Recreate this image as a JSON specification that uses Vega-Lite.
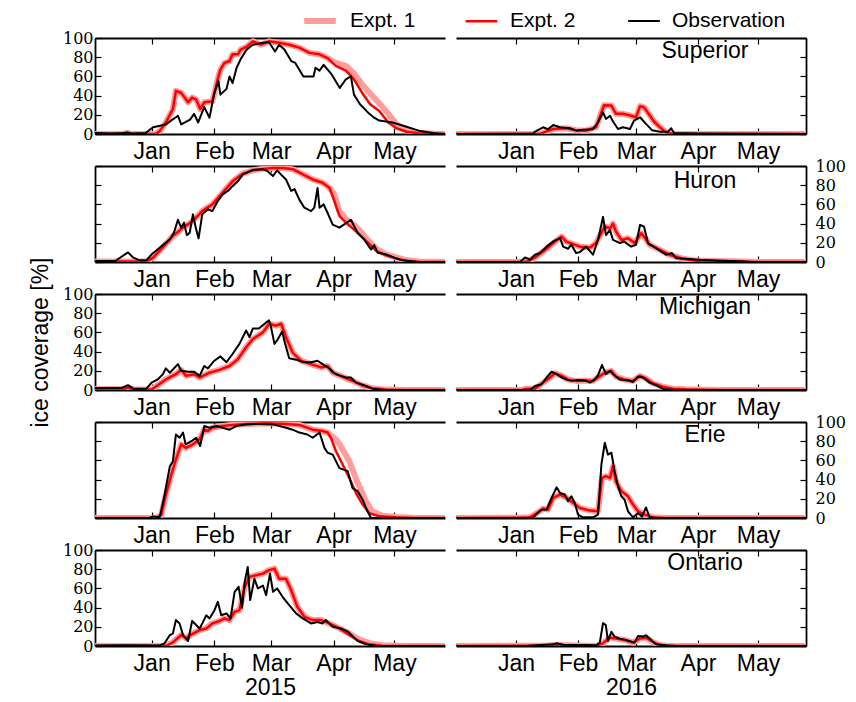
{
"$schema":"https://vega.github.io/schema/vega-lite/v6.json",
"background":"white",
"padding":{"left":29,"top":2,"right":0,"bottom":0},
"columns":2,
"spacing":{"row":32,"column":11},
"bounds":"flush",
"datasets":{"ice":[
{"p":"S15","d":-28,"a":0,"b":0,"o":1},{"p":"S15","d":-20,"o":0.5},{"p":"S15","d":-14,"a":0,"b":0,"o":1},{"p":"S15","d":-12,"a":1,"b":1,"o":1.5},{"p":"S15","d":-10,"a":0,"b":0,"o":0.5},{"p":"S15","d":-3,"o":1},{"p":"S15","d":0.7,"o":7},{"p":"S15","d":2,"a":0,"b":0},{"p":"S15","d":4,"a":3,"b":3},{"p":"S15","d":7,"a":12,"b":12,"o":10},{"p":"S15","d":10.5,"a":26,"b":26},{"p":"S15","d":12,"a":45,"b":45},{"p":"S15","d":13,"o":19},{"p":"S15","d":14.6,"a":43,"b":43,"o":10},{"p":"S15","d":18,"a":33,"b":33},{"p":"S15","d":19,"o":15},{"p":"S15","d":20,"a":38,"b":38},{"p":"S15","d":21,"o":21},{"p":"S15","d":22,"a":36,"b":36},{"p":"S15","d":23,"o":12},{"p":"S15","d":24,"a":26,"b":26},{"p":"S15","d":26,"a":33,"b":33,"o":28},{"p":"S15","d":28.6,"o":17},{"p":"S15","d":30,"a":34,"b":34},{"p":"S15","d":31,"o":43},{"p":"S15","d":33,"a":60,"b":60,"o":55},{"p":"S15","d":34,"a":67,"b":67,"o":41},{"p":"S15","d":36,"a":74,"b":74},{"p":"S15","d":37,"o":47},{"p":"S15","d":38.5,"a":76,"b":76,"o":60},{"p":"S15","d":40,"a":83,"b":83,"o":53},{"p":"S15","d":42,"o":69},{"p":"S15","d":42.6,"a":83,"b":83},{"p":"S15","d":44,"a":88,"b":88,"o":78},{"p":"S15","d":47,"a":91,"b":91,"o":88},{"p":"S15","d":50,"a":96.5,"b":96.5,"o":93},{"p":"S15","d":54,"a":93,"b":93},{"p":"S15","d":55,"o":95},{"p":"S15","d":58,"a":96.5,"b":96.5,"o":95.5},{"p":"S15","d":61,"o":86},{"p":"S15","d":63,"a":95,"b":95,"o":93},{"p":"S15","d":65.6,"o":88},{"p":"S15","d":68,"a":93,"b":93},{"p":"S15","d":69,"o":76},{"p":"S15","d":71,"o":74},{"p":"S15","d":73,"a":90,"b":90},{"p":"S15","d":75,"o":60},{"p":"S15","d":78,"a":84.5,"b":84.5},{"p":"S15","d":80,"o":60},{"p":"S15","d":81,"o":69},{"p":"S15","d":83,"a":83,"b":83,"o":66},{"p":"S15","d":85,"o":72},{"p":"S15","d":87,"a":79,"b":79},{"p":"S15","d":89,"o":62},{"p":"S15","d":91,"a":74,"b":71},{"p":"S15","d":93,"o":48},{"p":"S15","d":96,"a":71,"b":66,"o":57},{"p":"S15","d":98.5,"o":60},{"p":"S15","d":100,"a":63,"b":57,"o":41},{"p":"S15","d":103,"o":31},{"p":"S15","d":104,"a":52,"b":43},{"p":"S15","d":107.6,"o":21},{"p":"S15","d":108,"a":42,"b":31},{"p":"S15","d":110,"o":17},{"p":"S15","d":112.5,"a":32,"b":24,"o":14},{"p":"S15","d":117,"a":21,"b":12},{"p":"S15","d":119,"o":12},{"p":"S15","d":121,"a":10,"b":6},{"p":"S15","d":126,"a":4,"b":2.4,"o":7.5},{"p":"S15","d":132,"a":1.2,"b":0.7,"o":3.5},{"p":"S15","d":139,"o":1},{"p":"S15","d":140,"a":0.3,"b":0},{"p":"S15","d":145,"a":0,"b":0,"o":0},

{"p":"S16","d":-30,"a":0,"b":0,"o":0},{"p":"S16","d":8.6,"o":0.5},{"p":"S16","d":9.5,"o":2.4},{"p":"S16","d":12,"a":0,"b":0},{"p":"S16","d":13.6,"o":7},{"p":"S16","d":15,"a":2.4,"b":2.4},{"p":"S16","d":16,"o":5},{"p":"S16","d":18.6,"a":5.2,"b":5.2,"o":9.4},{"p":"S16","d":22,"o":7},{"p":"S16","d":25,"a":6,"b":6},{"p":"S16","d":27,"o":6},{"p":"S16","d":30,"a":4,"b":4,"o":3.5},{"p":"S16","d":33.5,"o":4.5},{"p":"S16","d":35,"a":3.5,"b":3.5},{"p":"S16","d":38.5,"o":5},{"p":"S16","d":40,"a":7,"b":7},{"p":"S16","d":41,"o":12},{"p":"S16","d":42.7,"a":22.6,"b":22.6},{"p":"S16","d":43.5,"o":22.6},{"p":"S16","d":44,"a":30,"b":30},{"p":"S16","d":45,"o":15.7},{"p":"S16","d":47,"o":19},{"p":"S16","d":47.7,"a":29.6,"b":29.6},{"p":"S16","d":48.5,"o":13},{"p":"S16","d":50,"a":21,"b":21},{"p":"S16","d":51,"o":5.2},{"p":"S16","d":53.5,"a":21,"b":21,"o":7},{"p":"S16","d":57,"o":5.2},{"p":"S16","d":57.6,"a":19,"b":19},{"p":"S16","d":59,"o":14},{"p":"S16","d":60,"a":17.4,"b":17.4},{"p":"S16","d":62,"a":29,"b":29,"o":17.4},{"p":"S16","d":64,"a":28,"b":28},{"p":"S16","d":65,"o":10.5},{"p":"S16","d":67,"a":19,"b":19},{"p":"S16","d":68,"o":4},{"p":"S16","d":69,"a":13,"b":13},{"p":"S16","d":72,"a":7,"b":7,"o":2.4},{"p":"S16","d":75,"a":1.7,"b":1.7},{"p":"S16","d":76,"o":2.4},{"p":"S16","d":77.6,"o":6},{"p":"S16","d":78,"a":0.3,"b":0.3},{"p":"S16","d":79,"o":1},{"p":"S16","d":85,"a":0,"b":0},{"p":"S16","d":90,"o":0.5},{"p":"S16","d":145,"a":0,"b":0,"o":0},

{"p":"H15","d":-28,"a":0.5,"b":0.5,"o":1},{"p":"H15","d":-18,"o":1},{"p":"H15","d":-11.7,"o":10},{"p":"H15","d":-9,"o":4.5},{"p":"H15","d":-6,"o":1.7},{"p":"H15","d":-2.6,"a":0.5,"b":0.5,"o":1.7},{"p":"H15","d":0,"o":8},{"p":"H15","d":0.7,"a":4.5,"b":4.5},{"p":"H15","d":2.3,"o":12},{"p":"H15","d":5.6,"a":15.6,"b":15.6,"o":17.7},{"p":"H15","d":9,"o":23.6},{"p":"H15","d":10.5,"a":27,"b":27},{"p":"H15","d":11,"o":30.5},{"p":"H15","d":13,"o":44},{"p":"H15","d":14.6,"o":35.8},{"p":"H15","d":15.5,"a":35.8,"b":35.8},{"p":"H15","d":16,"o":41},{"p":"H15","d":17.4,"o":28},{"p":"H15","d":18.8,"o":30.5},{"p":"H15","d":20.4,"a":42.7,"b":42.7,"o":49.6},{"p":"H15","d":22,"o":34},{"p":"H15","d":23.2,"o":24.6},{"p":"H15","d":25,"a":53,"b":53,"o":49.6},{"p":"H15","d":27.8,"o":55},{"p":"H15","d":30,"a":60,"b":60,"o":53},{"p":"H15","d":32.7,"o":63.5},{"p":"H15","d":35,"a":72,"b":72,"o":70.5},{"p":"H15","d":37.7,"o":74},{"p":"H15","d":40,"a":84,"b":84,"o":79},{"p":"H15","d":42.6,"o":84},{"p":"H15","d":45,"a":92,"b":92,"o":91},{"p":"H15","d":50,"a":95.5,"b":95.5,"o":96},{"p":"H15","d":55,"a":97,"b":97,"o":96.5},{"p":"H15","d":57,"o":95},{"p":"H15","d":60,"a":98,"b":98,"o":89.6},{"p":"H15","d":62,"o":95.5},{"p":"H15","d":64,"o":91},{"p":"H15","d":65,"a":98,"b":98},{"p":"H15","d":66.4,"o":86},{"p":"H15","d":69,"o":74},{"p":"H15","d":70,"a":96.5,"b":96.5},{"p":"H15","d":70.6,"o":76},{"p":"H15","d":73,"o":65},{"p":"H15","d":75,"a":91,"b":91},{"p":"H15","d":75.5,"o":56.6},{"p":"H15","d":78.8,"o":53},{"p":"H15","d":79.6,"a":86,"b":86},{"p":"H15","d":80.4,"o":56.6},{"p":"H15","d":82,"o":77},{"p":"H15","d":83,"o":56.6},{"p":"H15","d":84.5,"a":82.6,"b":82.6},{"p":"H15","d":85,"o":60},{"p":"H15","d":87,"o":51},{"p":"H15","d":88,"a":77,"b":77},{"p":"H15","d":89.5,"o":39},{"p":"H15","d":90.3,"a":70,"b":63.5},{"p":"H15","d":92.8,"a":53,"b":48,"o":35.8},{"p":"H15","d":95,"o":39},{"p":"H15","d":96,"a":45,"b":41},{"p":"H15","d":98.5,"o":44},{"p":"H15","d":101,"a":37,"b":32},{"p":"H15","d":101.8,"o":30.5},{"p":"H15","d":105,"o":23.6},{"p":"H15","d":106,"a":25,"b":22},{"p":"H15","d":108.4,"o":13},{"p":"H15","d":110,"o":17.7},{"p":"H15","d":111,"a":14,"b":11.5},{"p":"H15","d":111.7,"o":9.7},{"p":"H15","d":115.8,"a":8,"b":7,"o":8},{"p":"H15","d":120,"o":4.5},{"p":"H15","d":120.7,"a":5,"b":3.8},{"p":"H15","d":124,"o":1.7},{"p":"H15","d":125.7,"a":2,"b":1.4},{"p":"H15","d":130.6,"o":0.3},{"p":"H15","d":132,"a":0.5,"b":0.3},{"p":"H15","d":145,"a":0,"b":0,"o":0},

{"p":"H16","d":-30,"a":0,"b":0,"o":0},{"p":"H16","d":2,"o":0},{"p":"H16","d":3.6,"a":0,"b":0},{"p":"H16","d":4.5,"o":4.8},{"p":"H16","d":6,"a":0.7,"b":0.7},{"p":"H16","d":7,"o":2.4},{"p":"H16","d":9.5,"a":4.8,"b":4.8,"o":7.6},{"p":"H16","d":12,"o":9.3},{"p":"H16","d":13.6,"a":11,"b":11},{"p":"H16","d":15.3,"o":16},{"p":"H16","d":18.6,"a":19.7,"b":19.7,"o":21.4},{"p":"H16","d":22,"o":24.8},{"p":"H16","d":22.8,"a":26.5,"b":26.5},{"p":"H16","d":23.6,"o":16},{"p":"H16","d":25,"a":21.4,"b":21.4},{"p":"H16","d":26,"o":13.8},{"p":"H16","d":27.7,"o":18},{"p":"H16","d":28.6,"a":18.6,"b":18.6},{"p":"H16","d":30,"o":9.3},{"p":"H16","d":32,"a":16,"b":16,"o":10.3},{"p":"H16","d":35,"o":16},{"p":"H16","d":37,"a":15,"b":15},{"p":"H16","d":38.5,"o":7.6},{"p":"H16","d":40,"a":19.7,"b":19.7},{"p":"H16","d":41,"o":23},{"p":"H16","d":43.5,"o":47},{"p":"H16","d":44.4,"a":37,"b":37},{"p":"H16","d":45,"o":28},{"p":"H16","d":47,"a":35,"b":35,"o":33.4},{"p":"H16","d":48.5,"a":40,"b":40,"o":23},{"p":"H16","d":50,"a":31.7,"b":31.7},{"p":"H16","d":52,"o":19.7},{"p":"H16","d":52.7,"a":23,"b":23},{"p":"H16","d":54,"o":21.4},{"p":"H16","d":56,"a":24.8,"b":24.8},{"p":"H16","d":57.6,"o":16},{"p":"H16","d":59.3,"a":19.7,"b":19.7},{"p":"H16","d":60,"o":18},{"p":"H16","d":62,"o":38.6},{"p":"H16","d":62.6,"a":30,"b":30},{"p":"H16","d":64,"a":26.5,"b":26.5,"o":37},{"p":"H16","d":66,"o":19.7},{"p":"H16","d":66.8,"a":18,"b":18},{"p":"H16","d":70,"o":14.5},{"p":"H16","d":71.8,"a":12.8,"b":12.8},{"p":"H16","d":75,"o":7.6},{"p":"H16","d":76.7,"a":7.6,"b":7.6},{"p":"H16","d":78,"o":9.3},{"p":"H16","d":80,"o":4},{"p":"H16","d":83.4,"a":3.4,"b":3.4},{"p":"H16","d":85,"o":3.4},{"p":"H16","d":90,"a":1.4,"b":1.4},{"p":"H16","d":91.7,"o":2.4},{"p":"H16","d":98.3,"a":1.4,"b":1.4},{"p":"H16","d":101.7,"o":1.4},{"p":"H16","d":110,"a":0.7,"b":0.7},{"p":"H16","d":111.6,"o":0.7},{"p":"H16","d":118,"o":0},{"p":"H16","d":120,"a":0,"b":0},{"p":"H16","d":145,"a":0,"b":0,"o":0},

{"p":"M15","d":-28,"a":1,"b":1,"o":2},{"p":"M15","d":-15,"o":2},{"p":"M15","d":-14,"a":1,"b":1},{"p":"M15","d":-11.7,"a":2.5,"b":2.5,"o":5},{"p":"M15","d":-9,"a":0.5,"b":0.5,"o":1.4},{"p":"M15","d":-2.6,"o":1.4},{"p":"M15","d":0,"a":0.5,"b":0.5,"o":7.7},{"p":"M15","d":2.3,"a":4,"b":4},{"p":"M15","d":3,"o":11},{"p":"M15","d":5.6,"o":16.5},{"p":"M15","d":7,"a":11,"b":11,"o":22.5},{"p":"M15","d":9,"o":18},{"p":"M15","d":12,"a":16.5,"b":16.5},{"p":"M15","d":13,"o":27},{"p":"M15","d":14.6,"a":21,"b":21,"o":20},{"p":"M15","d":17,"a":14.7,"b":14.7},{"p":"M15","d":18,"o":19},{"p":"M15","d":21,"a":16.5,"b":16.5,"o":19},{"p":"M15","d":23.7,"a":13,"b":13,"o":14.7},{"p":"M15","d":26,"o":25},{"p":"M15","d":27.8,"o":22.5},{"p":"M15","d":28.6,"a":18,"b":18},{"p":"M15","d":31,"o":30.5},{"p":"M15","d":33.5,"a":21,"b":21},{"p":"M15","d":34,"o":35},{"p":"M15","d":37,"o":29},{"p":"M15","d":38.5,"a":25,"b":25},{"p":"M15","d":40,"o":37.5},{"p":"M15","d":42.6,"a":32,"b":32},{"p":"M15","d":43.4,"o":48},{"p":"M15","d":46.7,"a":44.6,"b":44.6,"o":62},{"p":"M15","d":48.4,"o":55},{"p":"M15","d":50,"a":53,"b":53,"o":64},{"p":"M15","d":53,"o":64},{"p":"M15","d":55,"a":60,"b":60},{"p":"M15","d":55.8,"o":69},{"p":"M15","d":58,"a":69,"b":69,"o":72.6},{"p":"M15","d":59,"o":65.6},{"p":"M15","d":60.7,"o":48},{"p":"M15","d":61.5,"a":67,"b":67},{"p":"M15","d":62,"o":51.6},{"p":"M15","d":64,"a":69,"b":69},{"p":"M15","d":64.5,"o":61},{"p":"M15","d":66,"o":48},{"p":"M15","d":66.4,"a":55,"b":55},{"p":"M15","d":68,"o":33},{"p":"M15","d":69.7,"a":39,"b":39},{"p":"M15","d":71.4,"o":31.6},{"p":"M15","d":73.8,"a":30.5,"b":30.5},{"p":"M15","d":74.7,"o":29},{"p":"M15","d":78.8,"a":27,"b":27,"o":29},{"p":"M15","d":82,"o":30.5},{"p":"M15","d":83.7,"a":23.5,"b":23.5},{"p":"M15","d":84.5,"o":27},{"p":"M15","d":87,"a":25,"b":25},{"p":"M15","d":87.8,"o":22.5},{"p":"M15","d":89.5,"a":18,"b":18},{"p":"M15","d":91,"o":16.5},{"p":"M15","d":94.4,"a":13.7,"b":13.7},{"p":"M15","d":96,"o":13},{"p":"M15","d":98.5,"o":13},{"p":"M15","d":99.3,"a":9.5,"b":9.5},{"p":"M15","d":101,"o":7.7},{"p":"M15","d":104,"a":5,"b":5},{"p":"M15","d":105,"o":5},{"p":"M15","d":109,"a":1.8,"b":1.8,"o":1.4},{"p":"M15","d":115,"o":0},{"p":"M15","d":115.8,"a":0.4,"b":0.4},{"p":"M15","d":125,"a":0,"b":0},{"p":"M15","d":145,"a":0,"b":0,"o":0},

{"p":"M16","d":-30,"a":0,"b":0,"o":0},{"p":"M16","d":3,"a":0,"b":0},{"p":"M16","d":5.3,"a":1.4,"b":1.4},{"p":"M16","d":7,"o":0},{"p":"M16","d":9.5,"a":1.4,"b":1.4,"o":4.2},{"p":"M16","d":12.8,"o":6},{"p":"M16","d":13.6,"a":7.7,"b":7.7},{"p":"M16","d":15.3,"o":13},{"p":"M16","d":17,"a":13,"b":13},{"p":"M16","d":17.8,"o":19},{"p":"M16","d":19.4,"a":17.5,"b":17.5},{"p":"M16","d":20.3,"o":16.5},{"p":"M16","d":22.8,"a":14.7,"b":14.7,"o":13},{"p":"M16","d":25,"o":11},{"p":"M16","d":26,"a":11,"b":11},{"p":"M16","d":27.7,"o":9.5},{"p":"M16","d":30,"a":9.5,"b":9.5},{"p":"M16","d":31,"o":10.5},{"p":"M16","d":34.4,"o":10},{"p":"M16","d":35,"a":10,"b":10},{"p":"M16","d":37,"o":7.7},{"p":"M16","d":38.5,"a":9.5,"b":9.5},{"p":"M16","d":39.4,"o":11},{"p":"M16","d":41,"o":15.4},{"p":"M16","d":42,"a":14.7,"b":14.7},{"p":"M16","d":43,"o":26},{"p":"M16","d":44.4,"a":18,"b":18},{"p":"M16","d":45,"o":16.5},{"p":"M16","d":47,"o":20},{"p":"M16","d":47.7,"a":20,"b":20},{"p":"M16","d":48.5,"o":16.5},{"p":"M16","d":50,"a":14,"b":14},{"p":"M16","d":51.8,"o":11},{"p":"M16","d":54,"a":11,"b":11},{"p":"M16","d":56,"o":10},{"p":"M16","d":58.5,"a":9.5,"b":9.5,"o":8.4},{"p":"M16","d":61,"o":14},{"p":"M16","d":62,"a":14.7,"b":14.7},{"p":"M16","d":63.5,"o":13},{"p":"M16","d":65,"a":12,"b":12},{"p":"M16","d":66.8,"o":7.7},{"p":"M16","d":68.4,"a":7,"b":7},{"p":"M16","d":70,"o":5},{"p":"M16","d":73.4,"a":3.5,"b":3.5},{"p":"M16","d":74,"o":0.7},{"p":"M16","d":78.4,"a":1.4,"b":1.4},{"p":"M16","d":80,"o":0},{"p":"M16","d":85,"a":0.7,"b":0.7},{"p":"M16","d":95,"a":0.3,"b":0.3},{"p":"M16","d":105,"a":0,"b":0},{"p":"M16","d":145,"a":0,"b":0,"o":0},

{"p":"E15","d":-28,"a":0,"b":0,"o":0},{"p":"E15","d":-1,"o":0},{"p":"E15","d":0.7,"o":1.7},{"p":"E15","d":2.3,"a":0,"b":0},{"p":"E15","d":4,"o":0.7},{"p":"E15","d":4.8,"a":3.5,"b":3.5},{"p":"E15","d":6.4,"o":24},{"p":"E15","d":7,"a":24,"b":24},{"p":"E15","d":9,"o":54},{"p":"E15","d":9.7,"a":45,"b":45},{"p":"E15","d":10.5,"o":59},{"p":"E15","d":12,"a":61,"b":61,"o":87},{"p":"E15","d":13.8,"o":83.6},{"p":"E15","d":14.6,"a":76.7,"b":76.7},{"p":"E15","d":15.5,"o":89},{"p":"E15","d":16.8,"o":76.7},{"p":"E15","d":17,"a":73,"b":73},{"p":"E15","d":19.6,"o":80},{"p":"E15","d":20.4,"a":76.7,"b":76.7},{"p":"E15","d":22,"o":83.6},{"p":"E15","d":23.7,"a":82,"b":82},{"p":"E15","d":24,"o":75},{"p":"E15","d":26,"a":92,"b":92,"o":95.8},{"p":"E15","d":27.8,"a":90.6,"b":90.6},{"p":"E15","d":28.6,"o":94},{"p":"E15","d":30,"a":94,"b":94},{"p":"E15","d":32,"o":95.8},{"p":"E15","d":35,"a":95.8,"b":95.8,"o":94},{"p":"E15","d":38.5,"o":92},{"p":"E15","d":40,"a":97,"b":97},{"p":"E15","d":41.8,"o":95.8},{"p":"E15","d":46.7,"a":98,"b":98,"o":97.5},{"p":"E15","d":53,"o":98},{"p":"E15","d":56.6,"a":98.6,"b":98.6},{"p":"E15","d":60,"o":97.5},{"p":"E15","d":66.4,"a":98,"b":98,"o":94},{"p":"E15","d":69.7,"o":92},{"p":"E15","d":73,"a":97,"b":97,"o":89},{"p":"E15","d":77,"o":87},{"p":"E15","d":79.6,"a":92,"b":92,"o":83.6},{"p":"E15","d":83,"o":89},{"p":"E15","d":84.5,"a":90.6,"b":90.6},{"p":"E15","d":85.4,"o":73},{"p":"E15","d":87,"a":89,"b":89,"o":68},{"p":"E15","d":88.6,"a":86,"b":83.6},{"p":"E15","d":89.5,"o":66},{"p":"E15","d":91,"a":82,"b":70},{"p":"E15","d":92.8,"a":77,"o":52},{"p":"E15","d":94.4,"b":55.7},{"p":"E15","d":96.9,"o":48.8},{"p":"E15","d":97.7,"a":59,"b":41.8},{"p":"E15","d":99.3,"o":31},{"p":"E15","d":101,"b":26},{"p":"E15","d":101.8,"a":37,"o":28},{"p":"E15","d":104.3,"b":14,"o":19},{"p":"E15","d":106,"a":17},{"p":"E15","d":106.7,"o":7},{"p":"E15","d":107.6,"b":5},{"p":"E15","d":108.4,"o":0},{"p":"E15","d":109,"a":7},{"p":"E15","d":112.5,"b":1.7},{"p":"E15","d":114,"a":2.4},{"p":"E15","d":120.7,"a":1,"b":0.7},{"p":"E15","d":130,"a":0.2,"b":0},{"p":"E15","d":145,"a":0,"b":0,"o":0},

{"p":"E16","d":-30,"a":0,"b":0,"o":0},{"p":"E16","d":2,"a":0.3,"b":0.3},{"p":"E16","d":7,"a":0.7,"b":0.7},{"p":"E16","d":8.6,"o":0},{"p":"E16","d":10.3,"a":5,"b":5,"o":4.2},{"p":"E16","d":12.8,"o":8.7},{"p":"E16","d":13.6,"a":9.8,"b":9.8},{"p":"E16","d":15.3,"o":8.7},{"p":"E16","d":16,"a":8.7,"b":8.7},{"p":"E16","d":17.8,"o":21},{"p":"E16","d":18.6,"a":21,"b":21},{"p":"E16","d":20.3,"o":32},{"p":"E16","d":22,"a":24.4,"b":24.4,"o":26},{"p":"E16","d":24.4,"o":24.4},{"p":"E16","d":25,"a":21.6,"b":21.6},{"p":"E16","d":26,"o":17.4},{"p":"E16","d":27.7,"o":22.6},{"p":"E16","d":28.6,"a":15.7,"b":15.7},{"p":"E16","d":29.4,"o":15.7},{"p":"E16","d":31,"o":3.5},{"p":"E16","d":32,"a":10.5,"b":10.5},{"p":"E16","d":33.5,"o":0.7},{"p":"E16","d":37,"a":7.7,"b":7.7},{"p":"E16","d":38.5,"o":0.7},{"p":"E16","d":41,"a":7,"b":7,"o":3.5},{"p":"E16","d":42.7,"o":55.7},{"p":"E16","d":43,"a":41.8,"b":41.8},{"p":"E16","d":44.4,"o":78.4},{"p":"E16","d":45,"a":43.6,"b":43.6},{"p":"E16","d":46,"o":66},{"p":"E16","d":47,"a":41.8,"b":41.8},{"p":"E16","d":47.7,"o":68},{"p":"E16","d":48.5,"a":54,"b":54},{"p":"E16","d":49.3,"o":48.8},{"p":"E16","d":50,"a":38,"b":38},{"p":"E16","d":51,"o":33},{"p":"E16","d":52.7,"a":28,"b":28,"o":22.6},{"p":"E16","d":54.3,"o":19},{"p":"E16","d":56,"a":22.6,"b":22.6,"o":7},{"p":"E16","d":58.5,"a":14,"b":14,"o":0.7},{"p":"E16","d":61,"a":7,"b":7,"o":5},{"p":"E16","d":63,"o":1.7},{"p":"E16","d":64.3,"a":3.5,"b":3.5},{"p":"E16","d":65,"o":11},{"p":"E16","d":66.8,"o":0.7},{"p":"E16","d":68.4,"a":0.7,"b":0.7},{"p":"E16","d":70,"o":0},{"p":"E16","d":75,"a":0,"b":0},{"p":"E16","d":145,"a":0,"b":0,"o":0},

{"p":"O15","d":-28,"a":0,"b":0,"o":0.5},{"p":"O15","d":-12,"o":0.8},{"p":"O15","d":4,"o":0.5},{"p":"O15","d":6.4,"o":2.8},{"p":"O15","d":7,"a":0,"b":0},{"p":"O15","d":9,"o":11.4},{"p":"O15","d":10.5,"a":3.8,"b":3.8,"o":13},{"p":"O15","d":12,"o":27},{"p":"O15","d":13.8,"o":23.5},{"p":"O15","d":14.6,"a":11.4,"b":11.4},{"p":"O15","d":15.5,"o":11.4},{"p":"O15","d":17,"a":8,"b":8},{"p":"O15","d":18,"o":5.2},{"p":"O15","d":20,"o":26},{"p":"O15","d":20.4,"a":13,"b":13},{"p":"O15","d":22,"o":21.8},{"p":"O15","d":23.7,"a":16.6,"b":16.6,"o":18.3},{"p":"O15","d":25.3,"o":24.6},{"p":"O15","d":27,"a":18.3,"b":18.3,"o":32},{"p":"O15","d":28.6,"o":28.7},{"p":"O15","d":30,"a":23.5,"b":23.5},{"p":"O15","d":31,"o":37},{"p":"O15","d":32.7,"o":46},{"p":"O15","d":33.5,"a":26,"b":26},{"p":"O15","d":34.4,"o":32},{"p":"O15","d":36,"a":28.7,"b":28.7},{"p":"O15","d":37,"o":34},{"p":"O15","d":38.5,"a":27,"b":27},{"p":"O15","d":39,"o":28.7},{"p":"O15","d":41,"a":35.6,"b":35.6,"o":56.4},{"p":"O15","d":43,"o":61.6},{"p":"O15","d":43.4,"a":37.4,"b":37.4},{"p":"O15","d":44.7,"o":39.8},{"p":"O15","d":46,"a":61.6,"b":61.6,"o":66.8},{"p":"O15","d":47.5,"o":82.4},{"p":"O15","d":48.4,"a":72,"b":72},{"p":"O15","d":48.7,"o":47.8},{"p":"O15","d":50.8,"o":70},{"p":"O15","d":51.6,"a":73.7,"b":73.7},{"p":"O15","d":52.5,"o":60},{"p":"O15","d":55,"a":75.4,"b":75.4,"o":63},{"p":"O15","d":56.6,"o":53},{"p":"O15","d":58,"a":79,"b":79},{"p":"O15","d":58.5,"o":75.4},{"p":"O15","d":60,"o":56.4},{"p":"O15","d":60.7,"a":80.6,"b":80.6},{"p":"O15","d":62,"o":60},{"p":"O15","d":63,"a":70,"b":70},{"p":"O15","d":64.8,"o":51},{"p":"O15","d":66.4,"a":70,"b":70},{"p":"O15","d":68,"o":42.5},{"p":"O15","d":69,"a":58,"b":58},{"p":"O15","d":71.4,"o":34},{"p":"O15","d":72,"a":40.8,"b":40.8},{"p":"O15","d":74.7,"o":28.7},{"p":"O15","d":75.5,"a":30.4,"b":30.4},{"p":"O15","d":78.8,"o":23.5},{"p":"O15","d":79.6,"a":27,"b":27},{"p":"O15","d":82,"o":25},{"p":"O15","d":83.7,"a":27,"b":27},{"p":"O15","d":84.5,"o":23.5},{"p":"O15","d":86,"o":27},{"p":"O15","d":87.8,"a":23.5,"b":23.5},{"p":"O15","d":89.5,"o":20},{"p":"O15","d":92.8,"a":18.3,"b":18.3},{"p":"O15","d":93.6,"o":18.3},{"p":"O15","d":97,"o":15},{"p":"O15","d":97.7,"a":13,"b":11.4},{"p":"O15","d":98.5,"o":12},{"p":"O15","d":101.8,"o":5.2},{"p":"O15","d":102.6,"a":7,"b":5.2},{"p":"O15","d":106,"o":1.7},{"p":"O15","d":107.6,"a":3,"b":1.7},{"p":"O15","d":110.9,"o":0.3},{"p":"O15","d":114,"a":0.8,"b":0.3},{"p":"O15","d":120,"o":0},{"p":"O15","d":125,"a":0,"b":0},{"p":"O15","d":145,"a":0,"b":0,"o":0},

{"p":"O16","d":-30,"a":0,"b":0,"o":0},{"p":"O16","d":5,"o":0},{"p":"O16","d":10.3,"o":0.7},{"p":"O16","d":15,"a":0.5,"b":0.5},{"p":"O16","d":18.6,"o":1.7},{"p":"O16","d":20,"a":1,"b":1},{"p":"O16","d":20.3,"o":2.8},{"p":"O16","d":23.6,"o":1.4},{"p":"O16","d":30,"a":0.5,"b":0.5},{"p":"O16","d":32,"o":1},{"p":"O16","d":40,"a":0,"b":0},{"p":"O16","d":40.2,"o":0.7},{"p":"O16","d":41.9,"o":3.5},{"p":"O16","d":43.5,"a":2.8,"b":2.8,"o":23.8},{"p":"O16","d":44.9,"o":21.7},{"p":"O16","d":46,"o":5.2},{"p":"O16","d":46.8,"a":8.7,"b":8.7},{"p":"O16","d":47.7,"o":14.7},{"p":"O16","d":49.3,"o":9.8},{"p":"O16","d":50,"a":7.7,"b":7.7},{"p":"O16","d":51.8,"o":7.7},{"p":"O16","d":54.3,"a":6.3,"b":6.3},{"p":"O16","d":55,"o":6.3},{"p":"O16","d":58.5,"a":3.5,"b":3.5},{"p":"O16","d":59.3,"o":3.5},{"p":"O16","d":61,"o":10.5},{"p":"O16","d":61.8,"a":7.7,"b":7.7},{"p":"O16","d":63.5,"o":9.8},{"p":"O16","d":65,"a":8.7,"b":8.7,"o":11.2},{"p":"O16","d":67.6,"o":6.3},{"p":"O16","d":68.4,"a":4.2,"b":4.2},{"p":"O16","d":70,"o":1.7},{"p":"O16","d":71.8,"a":1,"b":1},{"p":"O16","d":75,"o":0.7},{"p":"O16","d":76,"a":0,"b":0},{"p":"O16","d":80,"o":0},{"p":"O16","d":145,"a":0,"b":0,"o":0}
]},
"concat":[
{"width":350,"height":96,"resolve":{"axis":{"x":"independent","y":"independent"}},"layer":[
 {"data":{"name":"ice"},"transform":[{"filter":"datum.p=='S15'"},{"fold":["a","b","o"],"as":["s","v"]},{"filter":"isValid(datum.v)"}],
  "mark":{"type":"line","clip":true,"strokeJoin":"round"},
  "encoding":{
   "x":{"field":"d","type":"quantitative","scale":{"domain":[-28,145],"nice":false,"zero":false},"axis":{"orient":"bottom","values":[0,31,59,90,120],"labelExpr":"datum.value<20?'Jan':datum.value<45?'Feb':datum.value<75?'Mar':datum.value<105?'Apr':'May'","title":null}},
   "y":{"field":"v","type":"quantitative","scale":{"domain":[0,100],"nice":false},"axis":{"orient":"left","values":[0,20,40,60,80,100],"labels":true,"title":null}},
   "color":{"field":"s","type":"nominal","scale":{"domain":["a","b","o"],"range":["#ff9c9c","#ff0000","#000000"]},"legend":{"title":null,"labelExpr":"datum.label=='a'?'Expt. 1':datum.label=='b'?'Expt. 2':'Observation'"}},
   "strokeWidth":{"field":"s","type":"nominal","scale":{"type":"ordinal","domain":["a","b","o"],"range":[6,2.5,2]},"legend":{"title":null,"labelExpr":"datum.label=='a'?'Expt. 1':datum.label=='b'?'Expt. 2':'Observation'"}}}},
 {"data":{"values":[{"lake":""}]},"mark":{"type":"text"},"encoding":{"x":{"datum":0,"type":"quantitative","axis":{"orient":"top","values":[0,31,59,90,120],"labels":false,"title":null}},"y":{"datum":0,"type":"quantitative","axis":null},"text":{"field":"lake"}}}
]},
{"width":350,"height":96,"resolve":{"axis":{"x":"independent","y":"independent"}},"layer":[
 {"data":{"name":"ice"},"transform":[{"filter":"datum.p=='S16'"},{"fold":["a","b","o"],"as":["s","v"]},{"filter":"isValid(datum.v)"}],
  "mark":{"type":"line","clip":true,"strokeJoin":"round"},
  "encoding":{
   "x":{"field":"d","type":"quantitative","scale":{"domain":[-30,145],"nice":false,"zero":false},"axis":{"orient":"bottom","values":[0,31,60,91,121],"labelExpr":"datum.value<20?'Jan':datum.value<45?'Feb':datum.value<75?'Mar':datum.value<105?'Apr':'May'","title":null}},
   "y":{"field":"v","type":"quantitative","scale":{"domain":[0,100],"nice":false},"axis":{"orient":"right","values":[0,20,40,60,80,100],"labels":false,"title":null}},
   "color":{"field":"s","type":"nominal","scale":{"domain":["a","b","o"],"range":["#ff9c9c","#ff0000","#000000"]},"legend":{"title":null,"labelExpr":"datum.label=='a'?'Expt. 1':datum.label=='b'?'Expt. 2':'Observation'"}},
   "strokeWidth":{"field":"s","type":"nominal","scale":{"type":"ordinal","domain":["a","b","o"],"range":[6,2.5,2]},"legend":{"title":null,"labelExpr":"datum.label=='a'?'Expt. 1':datum.label=='b'?'Expt. 2':'Observation'"}}}},
 {"data":{"values":[{"lake":"Superior"}]},"mark":{"type":"text","align":"center","baseline":"alphabetic"},"encoding":{"x":{"datum":94.5,"type":"quantitative","axis":{"orient":"top","values":[0,31,60,91,121],"labels":false,"title":null}},"y":{"datum":79,"type":"quantitative","axis":null},"text":{"field":"lake"}}}
]},
{"width":350,"height":96,"resolve":{"axis":{"x":"independent","y":"independent"}},"layer":[
 {"data":{"name":"ice"},"transform":[{"filter":"datum.p=='H15'"},{"fold":["a","b","o"],"as":["s","v"]},{"filter":"isValid(datum.v)"}],
  "mark":{"type":"line","clip":true,"strokeJoin":"round"},
  "encoding":{
   "x":{"field":"d","type":"quantitative","scale":{"domain":[-28,145],"nice":false,"zero":false},"axis":{"orient":"bottom","values":[0,31,59,90,120],"labelExpr":"datum.value<20?'Jan':datum.value<45?'Feb':datum.value<75?'Mar':datum.value<105?'Apr':'May'","title":null}},
   "y":{"field":"v","type":"quantitative","scale":{"domain":[0,100],"nice":false},"axis":{"orient":"left","values":[0,20,40,60,80,100],"labels":false,"title":null}},
   "color":{"field":"s","type":"nominal","scale":{"domain":["a","b","o"],"range":["#ff9c9c","#ff0000","#000000"]},"legend":{"title":null,"labelExpr":"datum.label=='a'?'Expt. 1':datum.label=='b'?'Expt. 2':'Observation'"}},
   "strokeWidth":{"field":"s","type":"nominal","scale":{"type":"ordinal","domain":["a","b","o"],"range":[6,2.5,2]},"legend":{"title":null,"labelExpr":"datum.label=='a'?'Expt. 1':datum.label=='b'?'Expt. 2':'Observation'"}}}},
 {"data":{"values":[{"lake":""}]},"mark":{"type":"text"},"encoding":{"x":{"datum":0,"type":"quantitative","axis":{"orient":"top","values":[0,31,59,90,120],"labels":false,"title":null}},"y":{"datum":0,"type":"quantitative","axis":null},"text":{"field":"lake"}}}
]},
{"width":350,"height":96,"resolve":{"axis":{"x":"independent","y":"independent"}},"layer":[
 {"data":{"name":"ice"},"transform":[{"filter":"datum.p=='H16'"},{"fold":["a","b","o"],"as":["s","v"]},{"filter":"isValid(datum.v)"}],
  "mark":{"type":"line","clip":true,"strokeJoin":"round"},
  "encoding":{
   "x":{"field":"d","type":"quantitative","scale":{"domain":[-30,145],"nice":false,"zero":false},"axis":{"orient":"bottom","values":[0,31,60,91,121],"labelExpr":"datum.value<20?'Jan':datum.value<45?'Feb':datum.value<75?'Mar':datum.value<105?'Apr':'May'","title":null}},
   "y":{"field":"v","type":"quantitative","scale":{"domain":[0,100],"nice":false},"axis":{"orient":"right","values":[0,20,40,60,80,100],"labels":true,"title":null}},
   "color":{"field":"s","type":"nominal","scale":{"domain":["a","b","o"],"range":["#ff9c9c","#ff0000","#000000"]},"legend":{"title":null,"labelExpr":"datum.label=='a'?'Expt. 1':datum.label=='b'?'Expt. 2':'Observation'"}},
   "strokeWidth":{"field":"s","type":"nominal","scale":{"type":"ordinal","domain":["a","b","o"],"range":[6,2.5,2]},"legend":{"title":null,"labelExpr":"datum.label=='a'?'Expt. 1':datum.label=='b'?'Expt. 2':'Observation'"}}}},
 {"data":{"values":[{"lake":"Huron"}]},"mark":{"type":"text","align":"center","baseline":"alphabetic"},"encoding":{"x":{"datum":94.5,"type":"quantitative","axis":{"orient":"top","values":[0,31,60,91,121],"labels":false,"title":null}},"y":{"datum":77,"type":"quantitative","axis":null},"text":{"field":"lake"}}}
]},
{"width":350,"height":96,"resolve":{"axis":{"x":"independent","y":"independent"}},"layer":[
 {"data":{"name":"ice"},"transform":[{"filter":"datum.p=='M15'"},{"fold":["a","b","o"],"as":["s","v"]},{"filter":"isValid(datum.v)"}],
  "mark":{"type":"line","clip":true,"strokeJoin":"round"},
  "encoding":{
   "x":{"field":"d","type":"quantitative","scale":{"domain":[-28,145],"nice":false,"zero":false},"axis":{"orient":"bottom","values":[0,31,59,90,120],"labelExpr":"datum.value<20?'Jan':datum.value<45?'Feb':datum.value<75?'Mar':datum.value<105?'Apr':'May'","title":null}},
   "y":{"field":"v","type":"quantitative","scale":{"domain":[0,100],"nice":false},"axis":{"orient":"left","values":[0,20,40,60,80,100],"labels":true,"title":"ice coverage [%]"}},
   "color":{"field":"s","type":"nominal","scale":{"domain":["a","b","o"],"range":["#ff9c9c","#ff0000","#000000"]},"legend":{"title":null,"labelExpr":"datum.label=='a'?'Expt. 1':datum.label=='b'?'Expt. 2':'Observation'"}},
   "strokeWidth":{"field":"s","type":"nominal","scale":{"type":"ordinal","domain":["a","b","o"],"range":[6,2.5,2]},"legend":{"title":null,"labelExpr":"datum.label=='a'?'Expt. 1':datum.label=='b'?'Expt. 2':'Observation'"}}}},
 {"data":{"values":[{"lake":""}]},"mark":{"type":"text"},"encoding":{"x":{"datum":0,"type":"quantitative","axis":{"orient":"top","values":[0,31,59,90,120],"labels":false,"title":null}},"y":{"datum":0,"type":"quantitative","axis":null},"text":{"field":"lake"}}}
]},
{"width":350,"height":96,"resolve":{"axis":{"x":"independent","y":"independent"}},"layer":[
 {"data":{"name":"ice"},"transform":[{"filter":"datum.p=='M16'"},{"fold":["a","b","o"],"as":["s","v"]},{"filter":"isValid(datum.v)"}],
  "mark":{"type":"line","clip":true,"strokeJoin":"round"},
  "encoding":{
   "x":{"field":"d","type":"quantitative","scale":{"domain":[-30,145],"nice":false,"zero":false},"axis":{"orient":"bottom","values":[0,31,60,91,121],"labelExpr":"datum.value<20?'Jan':datum.value<45?'Feb':datum.value<75?'Mar':datum.value<105?'Apr':'May'","title":null}},
   "y":{"field":"v","type":"quantitative","scale":{"domain":[0,100],"nice":false},"axis":{"orient":"right","values":[0,20,40,60,80,100],"labels":false,"title":null}},
   "color":{"field":"s","type":"nominal","scale":{"domain":["a","b","o"],"range":["#ff9c9c","#ff0000","#000000"]},"legend":{"title":null,"labelExpr":"datum.label=='a'?'Expt. 1':datum.label=='b'?'Expt. 2':'Observation'"}},
   "strokeWidth":{"field":"s","type":"nominal","scale":{"type":"ordinal","domain":["a","b","o"],"range":[6,2.5,2]},"legend":{"title":null,"labelExpr":"datum.label=='a'?'Expt. 1':datum.label=='b'?'Expt. 2':'Observation'"}}}},
 {"data":{"values":[{"lake":"Michigan"}]},"mark":{"type":"text","align":"center","baseline":"alphabetic"},"encoding":{"x":{"datum":94.5,"type":"quantitative","axis":{"orient":"top","values":[0,31,60,91,121],"labels":false,"title":null}},"y":{"datum":79,"type":"quantitative","axis":null},"text":{"field":"lake"}}}
]},
{"width":350,"height":96,"resolve":{"axis":{"x":"independent","y":"independent"}},"layer":[
 {"data":{"name":"ice"},"transform":[{"filter":"datum.p=='E15'"},{"fold":["a","b","o"],"as":["s","v"]},{"filter":"isValid(datum.v)"}],
  "mark":{"type":"line","clip":true,"strokeJoin":"round"},
  "encoding":{
   "x":{"field":"d","type":"quantitative","scale":{"domain":[-28,145],"nice":false,"zero":false},"axis":{"orient":"bottom","values":[0,31,59,90,120],"labelExpr":"datum.value<20?'Jan':datum.value<45?'Feb':datum.value<75?'Mar':datum.value<105?'Apr':'May'","title":null}},
   "y":{"field":"v","type":"quantitative","scale":{"domain":[0,100],"nice":false},"axis":{"orient":"left","values":[0,20,40,60,80,100],"labels":false,"title":null}},
   "color":{"field":"s","type":"nominal","scale":{"domain":["a","b","o"],"range":["#ff9c9c","#ff0000","#000000"]},"legend":{"title":null,"labelExpr":"datum.label=='a'?'Expt. 1':datum.label=='b'?'Expt. 2':'Observation'"}},
   "strokeWidth":{"field":"s","type":"nominal","scale":{"type":"ordinal","domain":["a","b","o"],"range":[6,2.5,2]},"legend":{"title":null,"labelExpr":"datum.label=='a'?'Expt. 1':datum.label=='b'?'Expt. 2':'Observation'"}}}},
 {"data":{"values":[{"lake":""}]},"mark":{"type":"text"},"encoding":{"x":{"datum":0,"type":"quantitative","axis":{"orient":"top","values":[0,31,59,90,120],"labels":false,"title":null}},"y":{"datum":0,"type":"quantitative","axis":null},"text":{"field":"lake"}}}
]},
{"width":350,"height":96,"resolve":{"axis":{"x":"independent","y":"independent"}},"layer":[
 {"data":{"name":"ice"},"transform":[{"filter":"datum.p=='E16'"},{"fold":["a","b","o"],"as":["s","v"]},{"filter":"isValid(datum.v)"}],
  "mark":{"type":"line","clip":true,"strokeJoin":"round"},
  "encoding":{
   "x":{"field":"d","type":"quantitative","scale":{"domain":[-30,145],"nice":false,"zero":false},"axis":{"orient":"bottom","values":[0,31,60,91,121],"labelExpr":"datum.value<20?'Jan':datum.value<45?'Feb':datum.value<75?'Mar':datum.value<105?'Apr':'May'","title":null}},
   "y":{"field":"v","type":"quantitative","scale":{"domain":[0,100],"nice":false},"axis":{"orient":"right","values":[0,20,40,60,80,100],"labels":true,"title":null}},
   "color":{"field":"s","type":"nominal","scale":{"domain":["a","b","o"],"range":["#ff9c9c","#ff0000","#000000"]},"legend":{"title":null,"labelExpr":"datum.label=='a'?'Expt. 1':datum.label=='b'?'Expt. 2':'Observation'"}},
   "strokeWidth":{"field":"s","type":"nominal","scale":{"type":"ordinal","domain":["a","b","o"],"range":[6,2.5,2]},"legend":{"title":null,"labelExpr":"datum.label=='a'?'Expt. 1':datum.label=='b'?'Expt. 2':'Observation'"}}}},
 {"data":{"values":[{"lake":"Erie"}]},"mark":{"type":"text","align":"center","baseline":"alphabetic"},"encoding":{"x":{"datum":94.5,"type":"quantitative","axis":{"orient":"top","values":[0,31,60,91,121],"labels":false,"title":null}},"y":{"datum":79,"type":"quantitative","axis":null},"text":{"field":"lake"}}}
]},
{"width":350,"height":96,"resolve":{"axis":{"x":"independent","y":"independent"}},"layer":[
 {"data":{"name":"ice"},"transform":[{"filter":"datum.p=='O15'"},{"fold":["a","b","o"],"as":["s","v"]},{"filter":"isValid(datum.v)"}],
  "mark":{"type":"line","clip":true,"strokeJoin":"round"},
  "encoding":{
   "x":{"field":"d","type":"quantitative","scale":{"domain":[-28,145],"nice":false,"zero":false},"axis":{"orient":"bottom","values":[0,31,59,90,120],"labelExpr":"datum.value<20?'Jan':datum.value<45?'Feb':datum.value<75?'Mar':datum.value<105?'Apr':'May'","title":"2015"}},
   "y":{"field":"v","type":"quantitative","scale":{"domain":[0,100],"nice":false},"axis":{"orient":"left","values":[0,20,40,60,80,100],"labels":true,"title":null}},
   "color":{"field":"s","type":"nominal","scale":{"domain":["a","b","o"],"range":["#ff9c9c","#ff0000","#000000"]},"legend":{"title":null,"labelExpr":"datum.label=='a'?'Expt. 1':datum.label=='b'?'Expt. 2':'Observation'"}},
   "strokeWidth":{"field":"s","type":"nominal","scale":{"type":"ordinal","domain":["a","b","o"],"range":[6,2.5,2]},"legend":{"title":null,"labelExpr":"datum.label=='a'?'Expt. 1':datum.label=='b'?'Expt. 2':'Observation'"}}}},
 {"data":{"values":[{"lake":""}]},"mark":{"type":"text"},"encoding":{"x":{"datum":0,"type":"quantitative","axis":{"orient":"top","values":[0,31,59,90,120],"labels":false,"title":null}},"y":{"datum":0,"type":"quantitative","axis":null},"text":{"field":"lake"}}}
]},
{"width":350,"height":96,"resolve":{"axis":{"x":"independent","y":"independent"}},"layer":[
 {"data":{"name":"ice"},"transform":[{"filter":"datum.p=='O16'"},{"fold":["a","b","o"],"as":["s","v"]},{"filter":"isValid(datum.v)"}],
  "mark":{"type":"line","clip":true,"strokeJoin":"round"},
  "encoding":{
   "x":{"field":"d","type":"quantitative","scale":{"domain":[-30,145],"nice":false,"zero":false},"axis":{"orient":"bottom","values":[0,31,60,91,121],"labelExpr":"datum.value<20?'Jan':datum.value<45?'Feb':datum.value<75?'Mar':datum.value<105?'Apr':'May'","title":"2016"}},
   "y":{"field":"v","type":"quantitative","scale":{"domain":[0,100],"nice":false},"axis":{"orient":"right","values":[0,20,40,60,80,100],"labels":false,"title":null}},
   "color":{"field":"s","type":"nominal","scale":{"domain":["a","b","o"],"range":["#ff9c9c","#ff0000","#000000"]},"legend":{"title":null,"labelExpr":"datum.label=='a'?'Expt. 1':datum.label=='b'?'Expt. 2':'Observation'"}},
   "strokeWidth":{"field":"s","type":"nominal","scale":{"type":"ordinal","domain":["a","b","o"],"range":[6,2.5,2]},"legend":{"title":null,"labelExpr":"datum.label=='a'?'Expt. 1':datum.label=='b'?'Expt. 2':'Observation'"}}}},
 {"data":{"values":[{"lake":"Ontario"}]},"mark":{"type":"text","align":"center","baseline":"alphabetic"},"encoding":{"x":{"datum":94.5,"type":"quantitative","axis":{"orient":"top","values":[0,31,60,91,121],"labels":false,"title":null}},"y":{"datum":79,"type":"quantitative","axis":null},"text":{"field":"lake"}}}
]}
],
"config":{
 "view":{"stroke":null},
 "font":"Liberation Sans",
 "axis":{"grid":false,"domainColor":"#000","domainWidth":1.8,"tickColor":"#000","tickWidth":1.2,"tickSize":-6,"labelColor":"#000","labelFont":"Liberation Sans","labelFontSize":23,"labelOverlap":false,"labelFlush":false,"titleColor":"#000","titleFont":"Liberation Sans","titleFontWeight":"normal","titleFontSize":23},
 "axisBottom":{"labelPadding":12,"titlePadding":1},
 "axisLeft":{"labelFont":"DejaVu Serif","labelFontSize":16,"labelPadding":8,"titlePadding":10,"titleFontSize":23},
 "axisRight":{"labelFont":"DejaVu Serif","labelFontSize":16,"labelPadding":15},
 "text":{"font":"Liberation Sans","fontSize":23,"color":"#000"},
 "legend":{"orient":"none","legendX":206,"legendY":-36,"direction":"horizontal","symbolType":"stroke","symbolSize":1000,"labelFont":"Liberation Sans","labelFontSize":21,"labelColor":"#000","labelOffset":11,"columnPadding":0,"gridAlign":"all","padding":0}
}
}
